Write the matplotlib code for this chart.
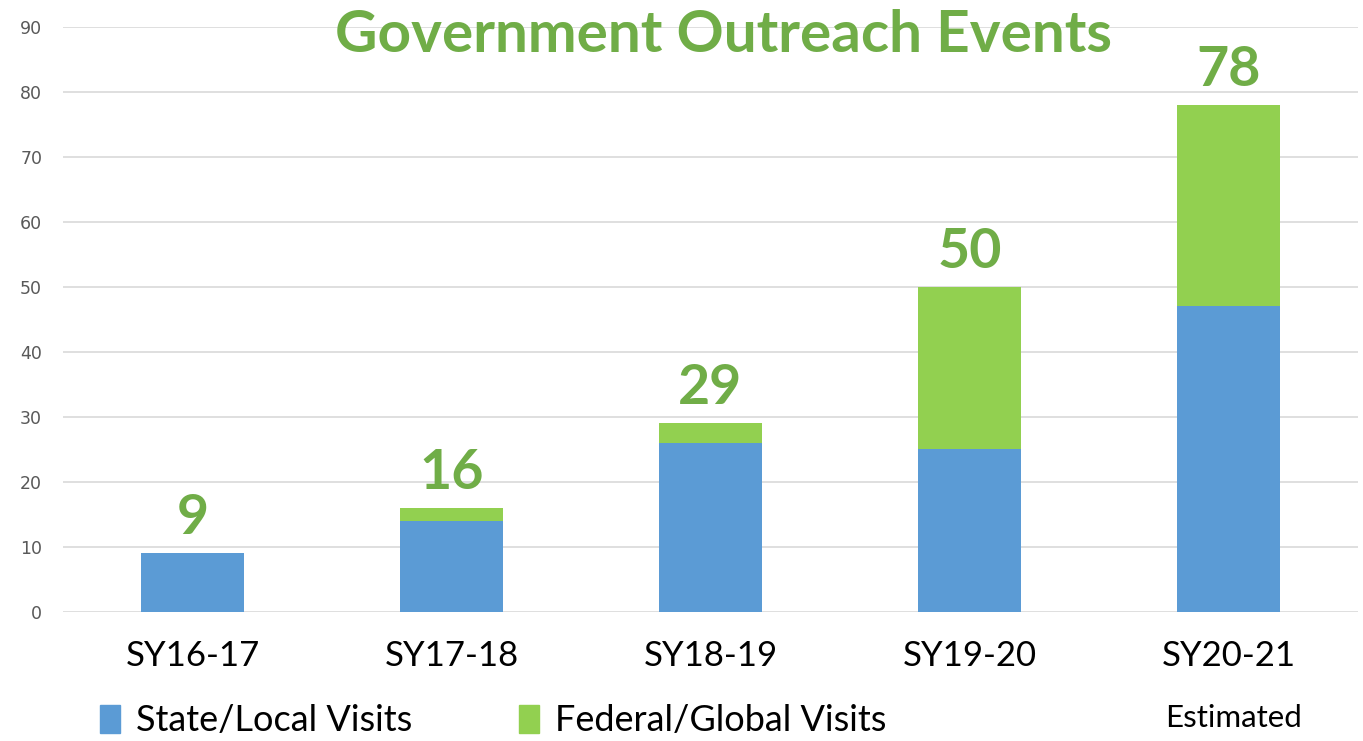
import matplotlib.pyplot as plt
from matplotlib.patches import Patch

# Данные по годам
years = ['SY16-17', 'SY17-18', 'SY18-19', 'SY19-20', 'SY20-21']
state_local = [9, 14, 26, 25, 47]
federal_global = [0, 2, 3, 25, 31]
totals = [s + f for s, f in zip(state_local, federal_global)]

blue = '#5B9BD5'
green = '#92D050'
label_green = '#70AD47'

font = ['Lato', 'DejaVu Sans']

fig = plt.figure(figsize=(13.63, 7.41), dpi=100)
ax = fig.add_axes([0.0462, 0.1741, 0.9501, 0.7895])

x = range(len(years))
ax.bar(x, state_local, width=0.40, color=blue, zorder=3)
ax.bar(x, federal_global, width=0.40, bottom=state_local, color=green, zorder=3)

# подписи итогов над столбцами
for i, t in enumerate(totals):
    ax.text(i, t + 1.6, str(t), ha='center', va='bottom', fontsize=40,
            fontweight='bold', color=label_green, family=font)

ax.set_xlim(-0.5, 4.5)
ax.set_ylim(0, 90)
ax.set_yticks(range(0, 91, 10))
ax.yaxis.grid(True, color='#D9D9D9', linewidth=1.2, zorder=0)
ax.set_axisbelow(True)
for s in ax.spines.values():
    s.set_visible(False)
ax.tick_params(axis='both', length=0)
ax.tick_params(axis='y', labelsize=12.5, labelcolor='#595959', pad=15)
ax.set_xticks(list(x))
ax.set_xticklabels(years, fontsize=25, family=font)
ax.tick_params(axis='x', pad=20)

fig.text(0.5305, 0.952, 'Government Outreach Events', ha='center', va='center',
         fontsize=42, fontweight='bold', color=label_green, family=font)

fig.text(0.9054, 0.031, 'Estimated', ha='center', va='center', fontsize=22.5,
         family=font)

handles = [Patch(color=blue), Patch(color=green)]
fig.legend(handles, ['State/Local Visits', 'Federal/Global Visits'],
           loc='center left', bbox_to_anchor=(0.0735, 0.027), ncol=2,
           frameon=False, prop={'family': font, 'size': 26},
           handlelength=0.55, handleheight=0.85, handletextpad=0.45,
           columnspacing=2.95, borderpad=0, borderaxespad=0)

fig.savefig('out.png', dpi=100)
